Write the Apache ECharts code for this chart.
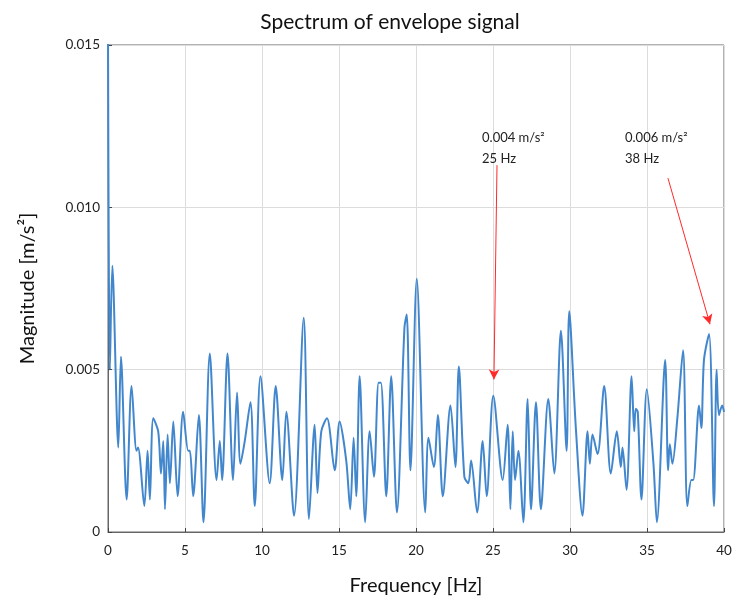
<!DOCTYPE html>
<html>
<head>
<meta charset="utf-8">
<script src="https://cdn.jsdelivr.net/npm/echarts@6/dist/echarts.min.js"></script>
<style>html,body{margin:0;padding:0;background:#fff}#c{width:741px;height:608px}</style>
</head>
<body>
<div id="c"></div>
<script>
const freqHz = [0,0.12,0.28,0.67,0.84,1.21,1.53,1.85,1.95,2.36,2.57,2.72,2.94,3.26,3.44,3.59,3.70,3.87,4.02,4.24,4.52,4.88,5.21,5.32,5.53,5.90,6.20,6.61,7.05,7.26,7.41,7.76,8.12,8.38,8.60,8.88,9.25,9.53,9.90,10.50,10.89,11.32,11.58,12.08,12.71,13.05,13.42,13.60,13.85,14.22,14.72,15.04,15.47,15.73,15.95,16.12,16.34,16.70,16.99,17.27,17.57,17.72,18.07,18.39,18.76,19.25,19.40,19.64,20.05,20.60,20.81,21.16,21.42,21.74,22.24,22.56,22.78,23.14,23.40,23.58,23.97,24.33,24.59,25.02,25.63,25.95,26.13,26.28,26.43,26.65,26.97,27.25,27.47,27.79,28.11,28.59,28.98,29.41,29.78,29.95,30.38,30.81,31.14,31.29,31.46,31.79,32.22,32.65,33.04,33.30,33.41,33.67,34.00,34.17,34.27,34.40,34.64,34.99,35.42,35.64,36.18,36.37,36.48,36.65,36.97,37.34,37.62,37.88,38.00,38.38,38.53,38.70,39.03,39.35,39.52,39.67,39.88,40.0];
const magnitude = [0.0155,0.0050,0.0082,0.0026,0.0054,0.0010,0.0045,0.0025,0.0026,0.0008,0.0025,0.0010,0.0035,0.0031,0.0018,0.0028,0.0007,0.0030,0.0015,0.0034,0.0011,0.0037,0.0025,0.0025,0.0011,0.0036,0.0003,0.0055,0.0016,0.0028,0.0016,0.0055,0.0016,0.0043,0.0021,0.0028,0.0040,0.0008,0.0048,0.0015,0.0045,0.0016,0.0037,0.0005,0.0066,0.0004,0.0033,0.0012,0.0031,0.0035,0.0019,0.0034,0.0022,0.0007,0.0029,0.0011,0.0048,0.0003,0.0031,0.0017,0.0046,0.0046,0.0011,0.0048,0.0006,0.0063,0.0067,0.0019,0.0078,0.0006,0.0029,0.0020,0.0036,0.0011,0.0039,0.0020,0.0051,0.0017,0.0015,0.0022,0.0006,0.0028,0.0011,0.0042,0.0016,0.0033,0.0007,0.0031,0.0016,0.0025,0.0003,0.0041,0.0007,0.0040,0.0007,0.0041,0.0018,0.0062,0.0025,0.0068,0.0032,0.0005,0.0031,0.0021,0.0030,0.0024,0.0045,0.0018,0.0031,0.0020,0.0026,0.0013,0.0048,0.0031,0.0038,0.0037,0.0010,0.0044,0.0021,0.0003,0.0053,0.0019,0.0027,0.0021,0.0035,0.0056,0.0008,0.0016,0.0016,0.0039,0.0032,0.0053,0.0061,0.0008,0.0050,0.0036,0.0039,0.0037];
const xTicks = [0,5,10,15,20,25,30,35,40];
const yTicks = [0,0.005,0.010,0.015];
const notes = [
  {lines:['0.004 m/s\u00b2','25 Hz'], textAt:[24.29,0.01235], from:[25.26,0.0113], to:[25.06,0.0047]},
  {lines:['0.006 m/s\u00b2','38 Hz'], textAt:[33.57,0.01235], from:[36.36,0.0109], to:[39.09,0.0064]}
];

const FONT = 'Lato';
const chart = echarts.init(document.getElementById('c'), null, {renderer:'canvas'});
const data = freqHz.map((f,i)=>[f, magnitude[i]]);
const option = {
  animation:false,
  backgroundColor:'#fff',
  title:{text:'Spectrum of envelope signal', left:385, top:7, textAlign:'center',
    textStyle:{fontFamily:FONT, fontSize:21, fontWeight:'normal', color:'#111'}},
  grid:{left:108, right:17, top:45, bottom:76, show:true, borderColor:'#666', borderWidth:1},
  xAxis:{type:'value', min:0, max:40, interval:5,
    name:'Frequency [Hz]', nameLocation:'middle', nameGap:44,
    nameTextStyle:{fontFamily:FONT, fontSize:20, color:'#111'},
    axisLine:{show:true, lineStyle:{color:'#666'}},
    axisTick:{show:true, inside:true, length:4, lineStyle:{color:'#444'}},
    axisLabel:{fontFamily:FONT, fontSize:13.5, color:'#222', margin:12},
    splitLine:{show:true, lineStyle:{color:'#dcdcdc', width:1}}},
  yAxis:{type:'value', min:0, max:0.015, interval:0.005,
    name:'Magnitude [m/s\u00b2]', nameLocation:'middle', nameGap:70,
    nameTextStyle:{fontFamily:FONT, fontSize:20, color:'#111'},
    axisLine:{show:true, lineStyle:{color:'#666'}},
    axisTick:{show:true, inside:true, length:4, lineStyle:{color:'#444'}},
    axisLabel:{fontFamily:FONT, fontSize:13.5, color:'#222', margin:8,
      formatter:v=> Math.abs(v)<1e-12 ? '0' : v.toFixed(3)},
    splitLine:{show:true, lineStyle:{color:'#dcdcdc', width:1}}},
  series:[{
    type:'line', data:data, smooth:0.3, showSymbol:false, clip:true,
    lineStyle:{color:'#4287cd', width:2},
    markLine:{silent:true, symbol:['none','arrow'], symbolSize:[8,10],
      lineStyle:{color:'#ff2a2a', width:1, type:'solid'}, label:{show:false},
      data: notes.map(n=>[{coord:n.from},{coord:n.to}])}
  }]
};
chart.setOption(option);
const g = [];
notes.forEach(n=>{
  const p = chart.convertToPixel({gridIndex:0}, n.textAt);
  n.lines.forEach((t,k)=>{
    g.push({type:'text', left:p[0], top:p[1]+k*21,
      style:{text:t, font:'13px '+FONT, fill:'#222'}});
  });
});
chart.setOption({graphic:g});
</script>
</body>
</html>
